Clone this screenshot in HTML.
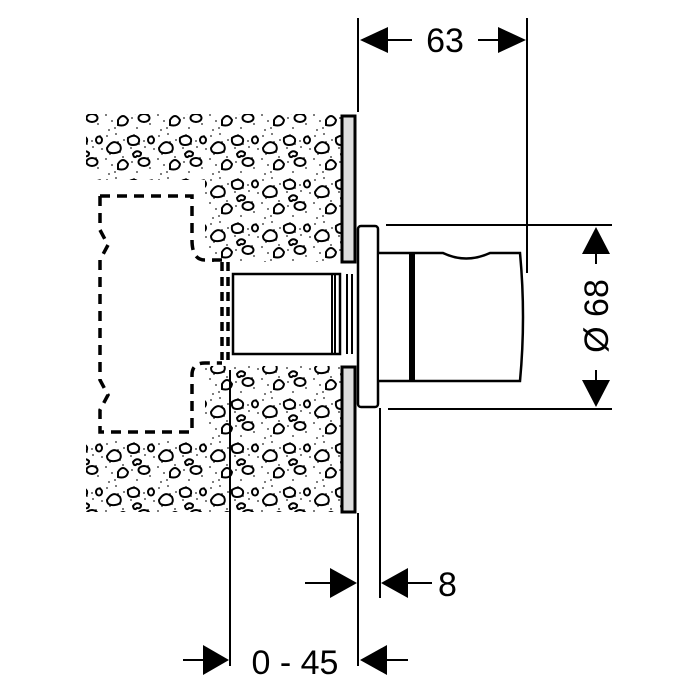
<!DOCTYPE html>
<html><head><meta charset="utf-8"><style>html,body{margin:0;padding:0;background:#fff}svg{display:block}</style></head>
<body>
<svg width="700" height="700" viewBox="0 0 700 700" xmlns="http://www.w3.org/2000/svg">
<defs>
<pattern id="st" width="52" height="44" patternUnits="userSpaceOnUse">
<rect width="52" height="44" fill="#fff"/>
<g fill="#222">
<circle cx="3" cy="4" r=".9"/><circle cx="12" cy="2" r=".9"/><circle cx="20" cy="8" r=".9"/><circle cx="30" cy="3" r=".9"/><circle cx="40" cy="9" r=".9"/><circle cx="48" cy="4" r=".9"/>
<circle cx="6" cy="22" r=".9"/><circle cx="16" cy="20" r=".9"/><circle cx="27" cy="16" r=".9"/><circle cx="37" cy="22" r=".9"/><circle cx="50" cy="17" r=".9"/>
<circle cx="2" cy="27" r=".9"/><circle cx="11" cy="40" r=".9"/><circle cx="22" cy="36" r=".9"/><circle cx="33" cy="40" r=".9"/><circle cx="46" cy="36" r=".9"/>
<circle cx="8" cy="33" r=".9"/><circle cx="28" cy="30" r=".9"/><circle cx="35" cy="12" r=".9"/><circle cx="14" cy="10" r=".9"/><circle cx="44" cy="26" r=".9"/>
<circle cx="19" cy="25" r=".9"/><circle cx="41" cy="15" r=".9"/><circle cx="5" cy="42" r=".9"/>
</g>
<g fill="none" stroke="#000" stroke-width="2">
<path d="M3 16 q6 -10 13 -3 q3 7 -5 8 q-8 1 -8 -5z"/>
<path d="M24 6 q7 -5 11 1 q1 6 -6 6 q-6 0 -5 -7z"/>
<ellipse cx="40" cy="30" rx="5.5" ry="4"/>
<path d="M14 32 q5 -8 10 0 q-1 7 -10 5z"/>
<path d="M29 22 q4 -5 8 -1 q0 4 -4 3 q-3 3 -4 -2z"/>
<ellipse cx="47" cy="8" rx="3" ry="3.5"/>
</g>
</pattern>
</defs>
<path d="M86 114 H342 V262 H205 V180 H86Z" fill="url(#st)"/>
<path d="M205 366 H342 V512 H86 V440 H205Z" fill="url(#st)"/>
<path d="M100 196 H192 V240 Q192 260 205 260 H222 M100 196 V230 L108 245 L100 260 V380 L108 395 L100 410 V432 H192 V375 Q192 363 205 363 H222" fill="none" stroke="#000" stroke-width="3.5" stroke-dasharray="10 7"/>
<path d="M222 262 V360 M228 262 V360" stroke="#000" stroke-width="3.5" stroke-dasharray="9 6"/>
<rect x="233" y="274" width="107" height="80" fill="#fff" stroke="#000" stroke-width="2.5"/>
<path d="M332 274 V354 M335 274 V354 M347 274 V354 M352 274 V354" stroke="#000" stroke-width="2"/>
<rect x="342" y="116" width="13" height="146" fill="#ddd" stroke="#000" stroke-width="3"/>
<rect x="342" y="367" width="13" height="145" fill="#ddd" stroke="#000" stroke-width="3"/>
<rect x="358" y="226" width="20" height="181" rx="3" fill="#fff" stroke="#000" stroke-width="2.5"/>
<path d="M379 253 H443 Q466 264 490 253 H520 Q526 317 520 381 H379" fill="#fff" stroke="#000" stroke-width="2.5"/>
<rect x="409" y="253" width="6" height="128" fill="#000"/>
<g stroke="#000" stroke-width="2" fill="none">
<path d="M358 18 V112 M527 18 V273"/>
<path d="M386 40 H412 M478 40 H500"/>
<path d="M386 225 H612 M388 409 H612"/>
<path d="M596 250 V264 M596 370 V385"/>
<path d="M380 408 V598"/>
<path d="M305 583 H330 M408 583 H432"/>
<path d="M230 370 V666 M358 513 V666"/>
<path d="M183 660 H205 M385 660 H408"/>
</g>
<g fill="#000">
<path d="M360 40 L388 27 V53Z"/>
<path d="M526 40 L498 27 V53Z"/>
<path d="M596 227 L582 254 H610Z"/>
<path d="M596 407 L582 380 H610Z"/>
<path d="M357 583 L330 568 V598Z"/>
<path d="M381 583 L408 568 V598Z"/>
<path d="M229 660 L203 645 V675Z"/>
<path d="M360 660 L387 645 V675Z"/>
</g>
<g font-family="Liberation Sans, sans-serif" font-size="34" fill="#000">
<text x="445" y="52" text-anchor="middle">63</text>
<text x="596" y="328" text-anchor="middle" transform="rotate(-90 596 316)">Ø 68</text>
<text x="438" y="596">8</text>
<text x="295" y="674" text-anchor="middle">0 - 45</text>
</g>
</svg>
</body></html>
